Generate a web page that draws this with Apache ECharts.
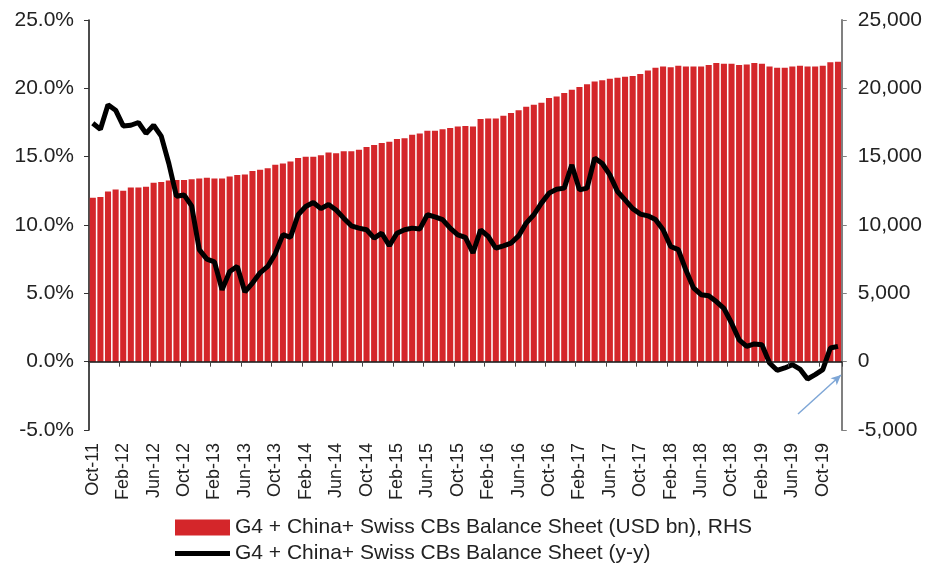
<!DOCTYPE html>
<html>
<head>
<meta charset="utf-8">
<title>G4 + China + Swiss CBs Balance Sheet</title>
<script src="https://cdn.jsdelivr.net/npm/echarts@6/dist/echarts.min.js"></script>
<style>
  html, body { margin: 0; padding: 0; background: #fff; }
  #chart { width: 925px; height: 563px; }
</style>
</head>
<body>
<div id="chart"></div>
<script>
// monthly, Oct-11 .. Dec-19
const months = [
  'Oct-11', 'Nov-11', 'Dec-11',
  'Jan-12', 'Feb-12', 'Mar-12', 'Apr-12', 'May-12', 'Jun-12', 'Jul-12', 'Aug-12', 'Sep-12', 'Oct-12', 'Nov-12', 'Dec-12',
  'Jan-13', 'Feb-13', 'Mar-13', 'Apr-13', 'May-13', 'Jun-13', 'Jul-13', 'Aug-13', 'Sep-13', 'Oct-13', 'Nov-13', 'Dec-13',
  'Jan-14', 'Feb-14', 'Mar-14', 'Apr-14', 'May-14', 'Jun-14', 'Jul-14', 'Aug-14', 'Sep-14', 'Oct-14', 'Nov-14', 'Dec-14',
  'Jan-15', 'Feb-15', 'Mar-15', 'Apr-15', 'May-15', 'Jun-15', 'Jul-15', 'Aug-15', 'Sep-15', 'Oct-15', 'Nov-15', 'Dec-15',
  'Jan-16', 'Feb-16', 'Mar-16', 'Apr-16', 'May-16', 'Jun-16', 'Jul-16', 'Aug-16', 'Sep-16', 'Oct-16', 'Nov-16', 'Dec-16',
  'Jan-17', 'Feb-17', 'Mar-17', 'Apr-17', 'May-17', 'Jun-17', 'Jul-17', 'Aug-17', 'Sep-17', 'Oct-17', 'Nov-17', 'Dec-17',
  'Jan-18', 'Feb-18', 'Mar-18', 'Apr-18', 'May-18', 'Jun-18', 'Jul-18', 'Aug-18', 'Sep-18', 'Oct-18', 'Nov-18', 'Dec-18',
  'Jan-19', 'Feb-19', 'Mar-19', 'Apr-19', 'May-19', 'Jun-19', 'Jul-19', 'Aug-19', 'Sep-19', 'Oct-19', 'Nov-19', 'Dec-19',
];

// balance sheet, USD bn (RHS)
const balanceSheet = [
  12000, 12050, 12450, 12600, 12500, 12750, 12750, 12800, 13100, 13150,
  13250, 13300, 13300, 13350, 13400, 13450, 13400, 13400, 13550, 13650,
  13700, 13950, 14050, 14150, 14400, 14500, 14650, 14900, 15000, 15000,
  15100, 15300, 15250, 15400, 15400, 15500, 15700, 15850, 16000, 16100,
  16300, 16350, 16600, 16700, 16900, 16900, 17000, 17100, 17200, 17250,
  17200, 17750, 17800, 17800, 18000, 18200, 18400, 18650, 18800, 18950,
  19300, 19400, 19650, 19900, 20100, 20300, 20500, 20600, 20700, 20770,
  20850, 20900, 21050, 21300, 21500, 21600, 21550, 21650, 21600, 21600,
  21600, 21700, 21850, 21800, 21800, 21700, 21750, 21850, 21800, 21600,
  21500, 21500, 21600, 21650, 21600, 21600, 21650, 21900, 21950,
];

// balance sheet growth, y-y %
const yoyGrowth = [
  17.45, 17.0, 18.8, 18.4, 17.25, 17.3, 17.5, 16.7, 17.3, 16.5,
  14.5, 12.1, 12.2, 11.4, 8.2, 7.5, 7.3, 5.25, 6.6, 6.97,
  5.1, 5.75, 6.5, 6.97, 7.9, 9.3, 9.1, 10.75, 11.35, 11.65,
  11.2, 11.5, 11.1, 10.5, 9.94, 9.77, 9.65, 9.04, 9.4, 8.48,
  9.4, 9.65, 9.77, 9.7, 10.75, 10.6, 10.4, 9.77, 9.28, 9.1,
  7.95, 9.65, 9.16, 8.3, 8.48, 8.67, 9.2, 10.14, 10.75, 11.6,
  12.33, 12.62, 12.7, 14.4, 12.57, 12.7, 14.9, 14.5, 13.67, 12.45,
  11.84, 11.2, 10.8, 10.67, 10.4, 9.65, 8.43, 8.2, 6.7, 5.4,
  4.9, 4.82, 4.4, 3.9, 2.83, 1.6, 1.12, 1.3, 1.24, -0.1,
  -0.63, -0.46, -0.22, -0.54, -1.27, -0.95, -0.58, 1.0, 1.12,
];

const seriesNames = [
  'G4 + China+ Swiss CBs Balance Sheet (USD bn), RHS',
  'G4 + China+ Swiss CBs Balance Sheet (y-y)',
];

const font = "'Liberation Sans', Arial, sans-serif";
const legendText = {
  fontFamily: font,
  fontSize: 21,
  color: '#222',
};

const chart = echarts.init(document.getElementById('chart'));

const option = {
  animation: false,
  grid: {
    left: 89,
    right: 83,
    top: 20,
    bottom: 133,
    containLabel: false,
  },
  // one legend per row
  legend: [
    {
      left: 170,
      top: 512,
      itemWidth: 55,
      itemHeight: 16,
      textStyle: legendText,
      data: [{ name: seriesNames[0], icon: 'rect' }],
    },
    {
      left: 170,
      top: 538,
      itemWidth: 55,
      itemHeight: 5,
      textStyle: legendText,
      data: [{ name: seriesNames[1], icon: 'rect', itemStyle: { color: '#000' } }],
    },
  ],
  xAxis: [
    {
      // labels at the bottom
      type: 'category',
      position: 'bottom',
      data: months,
      axisLine: { show: false, onZero: false },
      axisTick: { show: false },
      axisLabel: {
        interval: 3,
        rotate: 90,
        margin: 13,
        fontFamily: "'Liberation Sans Narrow', 'Liberation Sans', Arial, sans-serif",
        fontSize: 18,
        color: '#222',
      },
      splitLine: { show: false },
    },
    {
      // axis line sitting on zero
      type: 'category',
      position: 'bottom',
      data: months,
      z: 5,
      axisLine: { show: true, onZero: true, lineStyle: { color: '#111', width: 1.5 } },
      axisTick: { show: true, interval: 3, length: 5, lineStyle: { color: '#444', width: 1 } },
      axisLabel: { show: false },
      splitLine: { show: false },
    },
  ],
  yAxis: [
    {
      type: 'value',
      position: 'left',
      min: -5,
      max: 25,
      interval: 5,
      axisLine: { show: true, lineStyle: { color: '#111', width: 1.5 } },
      axisTick: { show: true, length: 5, lineStyle: { color: '#333' } },
      axisLabel: {
        margin: 15,
        fontFamily: font,
        fontSize: 21,
        color: '#222',
        formatter: v => v.toFixed(1) + '%',
      },
      splitLine: { show: false },
    },
    {
      type: 'value',
      position: 'right',
      min: -5000,
      max: 25000,
      interval: 5000,
      axisLine: { show: true, lineStyle: { color: '#808080', width: 2 } },
      axisTick: { show: true, length: 5, lineStyle: { color: '#808080' } },
      axisLabel: {
        margin: 16,
        fontFamily: font,
        fontSize: 21,
        color: '#222',
        formatter: v => v.toLocaleString('en-US'),
      },
      splitLine: { show: false },
    },
  ],
  series: [
    {
      name: seriesNames[0],
      type: 'bar',
      xAxisIndex: 0,
      yAxisIndex: 1,
      barCategoryGap: '20%',
      itemStyle: { color: '#d4262a' },
      data: balanceSheet,
    },
    {
      name: seriesNames[1],
      type: 'line',
      xAxisIndex: 0,
      yAxisIndex: 0,
      symbol: 'none',
      z: 4,
      lineStyle: { color: '#000', width: 5 },
      itemStyle: { color: '#000' },
      data: yoyGrowth,
      // blue pointer arrow next to the right axis
      markLine: {
        silent: true,
        symbol: ['none', 'arrow'],
        symbolSize: [7, 10],
        label: { show: false },
        lineStyle: { color: '#7ea6d6', width: 1.5, type: 'solid' },
        data: [[{ x: 798, y: 414 }, { x: 841, y: 375 }]],
      },
    },
  ],
};

chart.setOption(option);
</script>
</body>
</html>
